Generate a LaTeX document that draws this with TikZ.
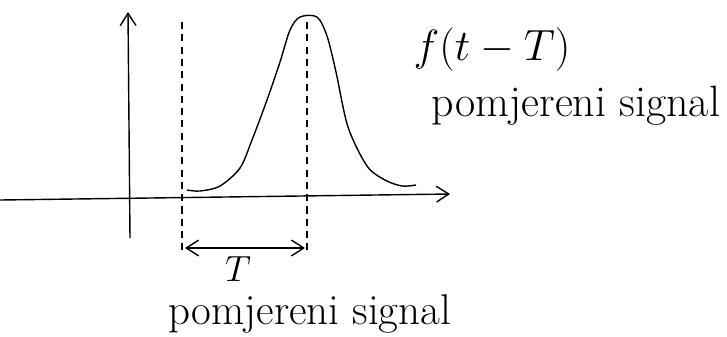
\documentclass[tikz,border=0pt]{standalone}
\usetikzlibrary{arrows.meta}
\begin{document}
\begin{tikzpicture}[x=0.02cm,y=-0.02cm,>={Straight Barb[length=7pt,width=9pt]},
  axis/.style={->,thick},
  guide/.style={semithick,dash pattern=on 4pt off 3pt},
  label/.style={font=\fontsize{25}{28}\selectfont,inner sep=0pt}]
\useasboundingbox (0,0) rectangle (727,336);
% axes
\coordinate (xa) at (0,200);
\coordinate (xb) at (450,194);
\coordinate (ya) at (130,238);
\coordinate (yb) at (128,12);
\draw[axis] (xa)--(xb);
\draw[axis] (ya)--(yb);
% shift guides
\coordinate (g1a) at (182,22);\coordinate (g1b) at (182,252);
\coordinate (g2a) at (307,22);\coordinate (g2b) at (307,255);
\draw[guide] (g1a)--(g1b);
\draw[guide] (g2a)--(g2b);
% shifted pulse
\draw[thick] plot[smooth,tension=.5] coordinates {(187,190) (200,191) (220,186) (240,168) (252,140) (267,100) (280,62) (290,30) (300,17) (317,17) (327,36) (336,72) (348,127) (367,166) (385,180) (402,186) (416,185)};
% delay T
\coordinate (da) at (185,248);
\coordinate (db) at (305,248);
\draw[<->,thick] (da)--(db);
\node[label,font=\fontsize{22}{24}\selectfont] (tlab) at (238,269) {$T$};
\node[label,font=\fontsize{33}{36}\selectfont] (fname) at (492,50) {$f(t-T)$};
\node[label] (sig1) at (576,106) {pomjereni signal};
\node[label,anchor=base,font=\fontsize{24.5}{27}\selectfont] (sig2) at (310,324) {pomjereni signal};
\end{tikzpicture}
\end{document}
